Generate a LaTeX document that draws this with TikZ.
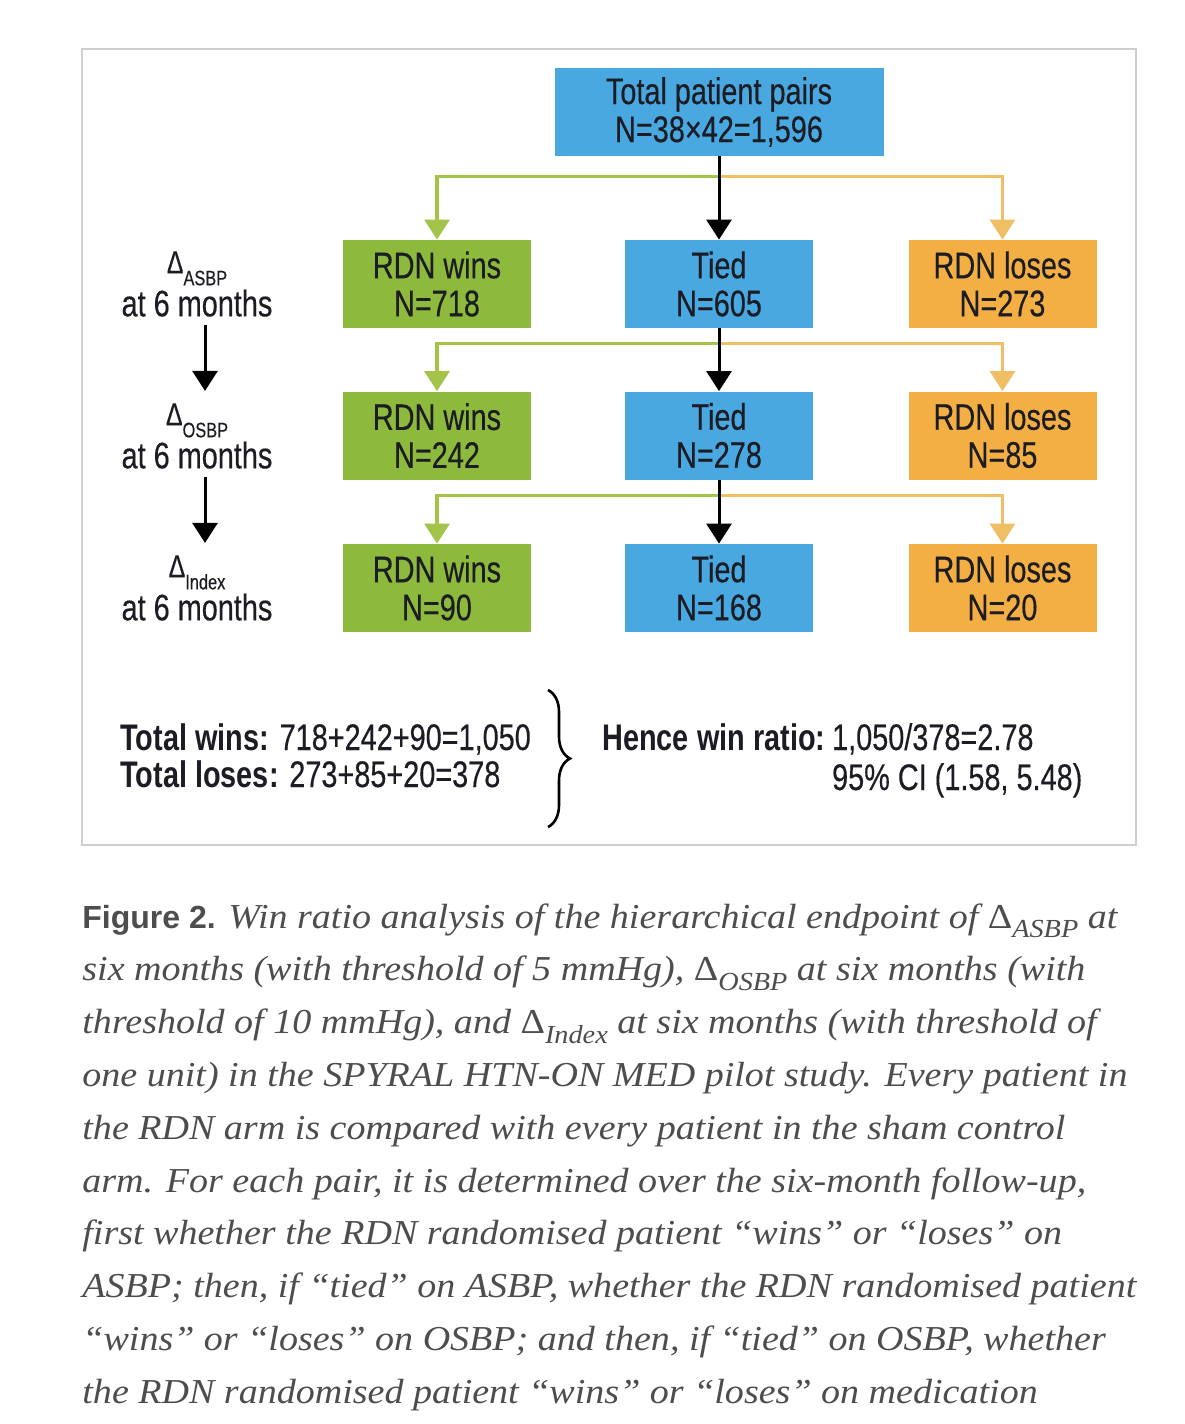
\documentclass[tikz,border=0pt]{standalone}
\usepackage{fontspec}
\setmainfont{Liberation Serif}
\newfontfamily\condfont[FakeStretch=0.78, UprightFeatures={FakeBold=0.35}]{Liberation Sans}
\newfontfamily\figfont{Liberation Sans}
\newfontfamily\capfont[FakeStretch=1.087]{Liberation Serif}
\usetikzlibrary{positioning,calc,arrows.meta,decorations.pathreplacing}

\definecolor{tiedblue}{HTML}{4AA8E0}
\definecolor{wingreen}{HTML}{8DB93C}
\definecolor{loseorange}{HTML}{F3AF44}
\definecolor{winstroke}{HTML}{A3C448}
\definecolor{losestroke}{HTML}{F0BE64}
\definecolor{inkc}{HTML}{1C1C24}
\definecolor{capgray}{HTML}{4D4D4D}
\definecolor{framegray}{HTML}{CFCFCF}

% delta with a lowered label
\newcommand{\dsub}[1]{{\fontsize{16}{16}\selectfont Δ}\raisebox{-6pt}{\fontsize{10.5}{10.5}\selectfont #1}}
\newcommand{\cdsub}[1]{{\upshape Δ}\raisebox{-0.6ex}{\fontsize{13}{13}\selectfont #1}}

\tikzset{
  boxbase/.style={minimum width=94pt, minimum height=44pt, align=center, inner sep=0pt,
    text=inkc, font=\condfont\fontsize{18.5}{19}\selectfont},
  winbox/.style={boxbase, fill=wingreen},
  tiedbox/.style={boxbase, fill=tiedblue},
  losebox/.style={boxbase, fill=loseorange},
  winline/.style={draw=winstroke, line width=1.6pt, -{Triangle[width=12.5pt,length=10pt]}},
  loseline/.style={draw=losestroke, line width=1.6pt, -{Triangle[width=12.5pt,length=10pt]}},
  tieline/.style={draw=black, line width=1.5pt, -{Triangle[width=12.5pt,length=10pt]}},
  deltalab/.style={align=center, inner sep=0pt, text=inkc, font=\condfont\fontsize{18.5}{19}\selectfont},
  sumtext/.style={anchor=base west, inner sep=0pt, text=inkc, font=\condfont\fontsize{18.5}{19}\selectfont},
  capline/.style={anchor=base west, inner sep=0pt, text=capgray, font=\capfont\itshape\fontsize{17.5}{21}\selectfont}
}

\begin{document}
\begin{tikzpicture}[x=0.5pt,y=-0.5pt]
\fill[white] (0,0) rectangle (1184,1424);
\useasboundingbox (0,0) rectangle (1184,1424);
% frame
\draw[draw=framegray, line width=1pt] (82,49) rectangle (1136,845);

% boxes
\node[tiedbox, minimum width=164.5pt] (top) at (719,112) {Total patient pairs\\N=38×42=1,596};
\foreach \y/\w/\t/\l [count=\r] in {284/718/605/273, 435.5/242/278/85, 588/90/168/20} {
  \node[winbox] (win\r) at (437,\y) {RDN wins\\N=\w};
  \node[tiedbox] (tie\r) at (719,\y) {Tied\\N=\t};
  \node[losebox] (lose\r) at (1002.5,\y) {RDN loses\\N=\l};
}

% connectors
\foreach \a/\b in {top/1, tie1/2, tie2/3} {
  \coordinate (split\b) at ($(\a.south)!0.24!(tie\b.north)$);
  \draw[winline] (split\b) -| (win\b.north);
  \draw[loseline] (split\b) -| (lose\b.north);
  \draw[tieline] (\a.south) -- (tie\b.north);
}

% left labels
\foreach \s/\y [count=\r] in {ASBP/284, OSBP/436, Index/588} {
  \node[deltalab] (lab\r) at (197,\y) {\dsub{\s}\\[1pt]at 6 months};
}
\draw[tieline, shorten <=4pt, shorten >=6pt] ([xshift=4pt]lab1.south) -- ([xshift=4pt]lab2.north);
\draw[tieline, shorten <=4pt, shorten >=6pt] ([xshift=4pt]lab2.south) -- ([xshift=4pt]lab3.north);

% totals
\node[sumtext] (wins) at (120,750) {\textbf{Total wins:} 718+242+90=1,050};
\node[sumtext] (loses) at (120,787) {\textbf{Total loses:} 273+85+20=378};
\coordinate (bracetop) at (548,690);
\coordinate (bracebot) at (548,827);
\draw[line width=1.3pt, decorate, decoration={brace, amplitude=11pt}] (bracetop) -- (bracebot);
\node[sumtext] (ratio) at (602,750) {\textbf{Hence win ratio:}};
\node[sumtext, right=3pt of ratio.base east, anchor=base west] (ratioval) {1,050/378=2.78};
\node[sumtext] (ci) at ($(ratioval.base west)+(0,40)$) {95\% CI (1.58, 5.48)};

% caption
\node[capline] (cap1) at (82,928) {{\figfont\upshape\bfseries\fontsize{16}{16}\selectfont Figure 2.} Win ratio analysis of the hierarchical endpoint of \cdsub{ASBP} at};
\foreach \txt [count=\k from 1] in {
  {six months (with threshold of 5 mmHg), \cdsub{OSBP} at six months (with},
  {threshold of 10 mmHg), and \cdsub{Index} at six months (with threshold of},
  {one unit) in the SPYRAL HTN-ON MED pilot study. Every patient in},
  {the RDN arm is compared with every patient in the sham control},
  {arm. For each pair, it is determined over the six-month follow-up,},
  {first whether the RDN randomised patient “wins” or “loses” on},
  {ASBP; then, if “tied” on ASBP, whether the RDN randomised patient},
  {“wins” or “loses” on OSBP; and then, if “tied” on OSBP, whether},
  {the RDN randomised patient “wins” or “loses” on medication}} {
  \node[capline] (cap\k) at (82,{928+52.8*\k}) {\txt};
}
\end{tikzpicture}
\end{document}
